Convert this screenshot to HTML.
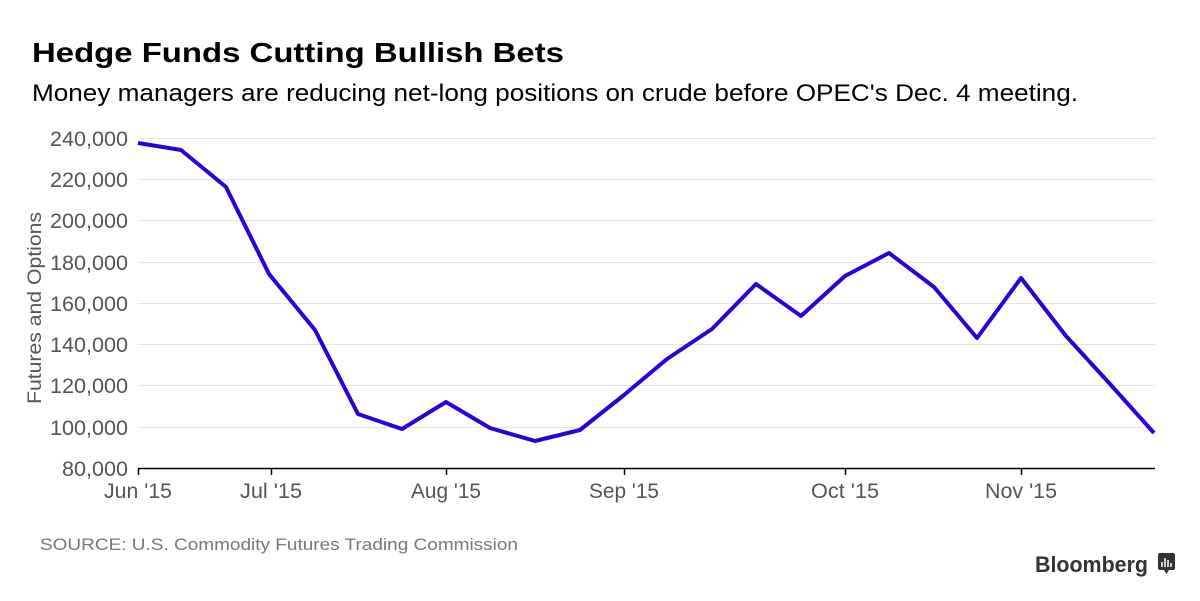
<!DOCTYPE html>
<html><head><meta charset="utf-8"><style>
html,body{margin:0;padding:0;background:#fff;}
svg{display:block;}
</style></head><body>
<svg width="1200" height="601" viewBox="0 0 1200 601" xmlns="http://www.w3.org/2000/svg">
<text x="32" y="62" font-family="Liberation Sans, sans-serif" font-weight="bold" font-size="28" fill="#000" textLength="532" lengthAdjust="spacingAndGlyphs">Hedge Funds Cutting Bullish Bets</text>
<text x="32" y="101" font-family="Liberation Sans, sans-serif" font-size="24" fill="#000" textLength="1046" lengthAdjust="spacingAndGlyphs">Money managers are reducing net-long positions on crude before OPEC's Dec. 4 meeting.</text>
<g stroke="#e3e3e8" stroke-width="1">
<line x1="138" x2="1155" y1="138.5" y2="138.5"/><line x1="138" x2="1155" y1="179.5" y2="179.5"/>
<line x1="138" x2="1155" y1="220.5" y2="220.5"/><line x1="138" x2="1155" y1="262.5" y2="262.5"/>
<line x1="138" x2="1155" y1="303.5" y2="303.5"/><line x1="138" x2="1155" y1="344.5" y2="344.5"/>
<line x1="138" x2="1155" y1="385.5" y2="385.5"/><line x1="138" x2="1155" y1="427.5" y2="427.5"/>
</g>
<g font-family="Liberation Sans, sans-serif" font-size="21" fill="#555" text-anchor="end">
<text x="128" y="146" textLength="78" lengthAdjust="spacingAndGlyphs">240,000</text>
<text x="128" y="187" textLength="78" lengthAdjust="spacingAndGlyphs">220,000</text>
<text x="128" y="228" textLength="78" lengthAdjust="spacingAndGlyphs">200,000</text>
<text x="128" y="270" textLength="78" lengthAdjust="spacingAndGlyphs">180,000</text>
<text x="128" y="311" textLength="78" lengthAdjust="spacingAndGlyphs">160,000</text>
<text x="128" y="352" textLength="78" lengthAdjust="spacingAndGlyphs">140,000</text>
<text x="128" y="393" textLength="78" lengthAdjust="spacingAndGlyphs">120,000</text>
<text x="128" y="435" textLength="78" lengthAdjust="spacingAndGlyphs">100,000</text>
<text x="128" y="476" textLength="66" lengthAdjust="spacingAndGlyphs">80,000</text>
</g>
<text transform="translate(41,308) rotate(-90)" text-anchor="middle" font-family="Liberation Sans, sans-serif" font-size="19" fill="#555" textLength="192" lengthAdjust="spacingAndGlyphs">Futures and Options</text>
<line x1="138" x2="1155" y1="468.5" y2="468.5" stroke="#000" stroke-width="1.5"/>
<g stroke="#000" stroke-width="1.5">
<line x1="138.5" x2="138.5" y1="468" y2="475"/><line x1="271.5" x2="271.5" y1="468" y2="475"/>
<line x1="446.5" x2="446.5" y1="468" y2="475"/><line x1="624.5" x2="624.5" y1="468" y2="475"/>
<line x1="845.5" x2="845.5" y1="468" y2="475"/><line x1="1021.5" x2="1021.5" y1="468" y2="475"/>
</g>
<g font-family="Liberation Sans, sans-serif" font-size="21" fill="#555" text-anchor="middle">
<text x="138" y="498" textLength="68" lengthAdjust="spacingAndGlyphs">Jun '15</text>
<text x="271" y="498" textLength="62" lengthAdjust="spacingAndGlyphs">Jul '15</text>
<text x="446" y="498" textLength="70" lengthAdjust="spacingAndGlyphs">Aug '15</text>
<text x="624" y="498" textLength="70" lengthAdjust="spacingAndGlyphs">Sep '15</text>
<text x="845" y="498" textLength="68" lengthAdjust="spacingAndGlyphs">Oct '15</text>
<text x="1021" y="498" textLength="72" lengthAdjust="spacingAndGlyphs">Nov '15</text>
</g>
<polyline fill="none" stroke="#2c00d6" stroke-width="4" stroke-linejoin="round" points="138,143 181,150 226,187 269,274 315,330 358,414 402,429 446,402 490,428 535,441 580,430 624,395 667,359 712,329 756,284 801,316 845,276 889,253 934,287 977,338 1021,278 1066,336 1110,384 1154,433"/>
<text x="40" y="550" font-family="Liberation Sans, sans-serif" font-size="17" fill="#777" textLength="478" lengthAdjust="spacingAndGlyphs">SOURCE: U.S. Commodity Futures Trading Commission</text>
<text x="1035" y="572" font-family="Liberation Sans, sans-serif" font-weight="bold" font-size="22" fill="#333" textLength="113" lengthAdjust="spacingAndGlyphs">Bloomberg</text>
<rect x="1158" y="553" width="17" height="17" rx="2" fill="#333"/>
<path d="M1164 570 L1166.5 574 L1169 570 Z" fill="#333"/>
<g stroke="#fff" stroke-width="1.5"><line x1="1162" y1="567" x2="1162" y2="562"/><line x1="1165" y1="567" x2="1165" y2="558"/><line x1="1168" y1="567" x2="1168" y2="560"/><line x1="1171" y1="567" x2="1171" y2="563"/></g>
</svg>
</body></html>
